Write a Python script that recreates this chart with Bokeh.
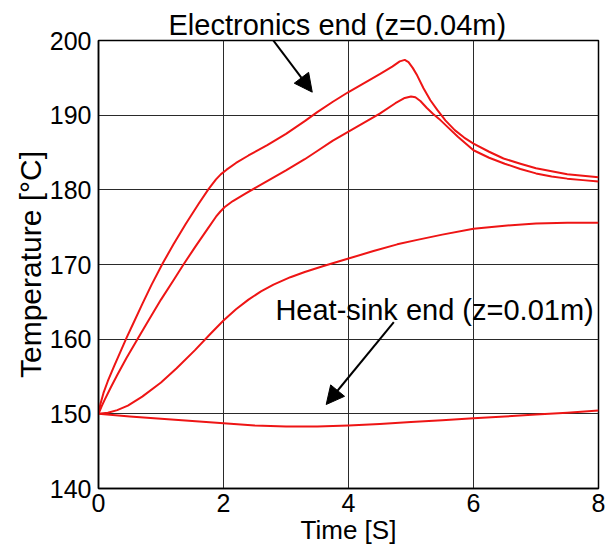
from bokeh.plotting import figure
from bokeh.models import Label, Arrow, NormalHead, FixedTicker, Range1d
from bokeh.embed import file_html
from bokeh.resources import INLINE

# Electronics end, upper curve
t_a = [0, 0.03, 0.08, 0.15, 0.25, 0.35, 0.45, 0.55, 0.7, 0.85, 1.03, 1.2, 1.4, 1.6, 1.76, 1.88, 1.96,
       2.05, 2.2, 2.4, 2.7, 3.0, 3.3, 3.5, 3.75, 4.0, 4.25, 4.5, 4.7, 4.82, 4.9, 4.96, 5.03, 5.1, 5.2,
       5.31, 5.42, 5.55, 5.7, 5.85, 6.0, 6.25, 6.48, 6.75, 7.0, 7.25, 7.5, 7.75, 8.0]
temp_a = [150, 151.3, 152.8, 154.4, 156.4, 158.3, 160.2, 162.0, 164.7, 167.3, 170.2, 172.7, 175.5, 178.1,
          180.1, 181.4, 182.1, 182.7, 183.6, 184.6, 186.0, 187.5, 189.2, 190.4, 191.8, 193.1, 194.3,
          195.5, 196.5, 197.2, 197.4, 197.1, 196.3, 195.3, 193.6, 192.0, 190.7, 189.3, 188.0, 187.0,
          186.2, 185.1, 184.2, 183.5, 182.9, 182.5, 182.1, 181.9, 181.7]

# Electronics side, second curve
t_b = [0, 0.05, 0.1, 0.2, 0.3, 0.45, 0.63, 0.8, 1.0, 1.2, 1.36, 1.55, 1.74, 1.88, 1.95, 2.02, 2.15,
       2.35, 2.6, 3.0, 3.3, 3.5, 3.75, 4.0, 4.25, 4.5, 4.75, 4.9, 5.0, 5.07, 5.15, 5.25, 5.35, 5.45, 5.6,
       5.75, 6.0, 6.25, 6.5, 6.75, 7.0, 7.25, 7.5, 7.75, 8.0]
temp_b = [150, 151.0, 151.9, 153.6, 155.2, 157.5, 160.1, 162.5, 165.3, 167.9, 170.0, 172.4, 174.7, 176.4,
          177.1, 177.7, 178.5, 179.5, 180.7, 182.6, 184.1, 185.2, 186.6, 187.8, 189.0, 190.2, 191.6,
          192.3, 192.5, 192.4, 191.9, 191.0, 190.2, 189.5, 188.3, 187.1, 185.3, 184.3, 183.5, 182.8,
          182.2, 181.8, 181.5, 181.3, 181.1]

# Middle curve
t_c = [0, 0.15, 0.3, 0.47, 0.7, 1.0, 1.25, 1.54, 1.8, 2.0, 2.2, 2.4, 2.6, 2.8, 3.07, 3.3, 3.6, 3.8, 4.0,
       4.4, 4.78, 5.1, 5.5, 6.0, 6.5, 7.0, 7.5, 8.0]
temp_c = [150, 150.15, 150.5, 151.1, 152.3, 154.2, 156.1, 158.5, 160.8, 162.5, 164.0, 165.3, 166.4, 167.3,
          168.3, 169.0, 169.8, 170.3, 170.8, 171.8, 172.7, 173.3, 174.0, 174.8, 175.2, 175.5, 175.6,
          175.6]

# Heat-sink end
t_d = [0, 0.5, 1.0, 1.5, 2.0, 2.5, 3.0, 3.5, 4.0, 4.5, 5.0, 5.5, 6.0, 6.5, 7.0, 7.5, 8.0]
temp_d = [150, 149.65, 149.35, 149.05, 148.75, 148.45, 148.3, 148.3, 148.45, 148.65, 148.9, 149.15,
          149.4, 149.65, 149.9, 150.15, 150.45]

x_ticks = [0, 2, 4, 6, 8]
y_ticks = [140, 150, 160, 170, 180, 190, 200]

FONT = "Liberation Sans"
RED = "#ee1515"

p = figure(width=613, height=552, x_range=Range1d(0, 8), y_range=Range1d(140, 200),
           output_backend="svg", toolbar_location=None,
           min_border_left=98, min_border_right=15, min_border_top=40, min_border_bottom=64,
           x_axis_label="Time [S]", y_axis_label="Temperature [\u00b0C]",
           title="Electronics end (z=0.04m)")

p.title.text_font = FONT
p.title.text_font_size = "29px"
p.title.text_font_style = "normal"
p.title.text_color = "black"
p.title.align = "left"
p.title.offset = 70
p.title.standoff = 0

for tt, vv in [(t_a, temp_a), (t_b, temp_b), (t_c, temp_c), (t_d, temp_d)]:
    p.line(tt, vv, line_color=RED, line_width=2, line_join="round")

p.xaxis.ticker = FixedTicker(ticks=x_ticks)
p.yaxis.ticker = FixedTicker(ticks=y_ticks)
for ax in (p.xaxis, p.yaxis):
    ax.major_tick_out = 0
    ax.major_tick_in = 0
    ax.minor_tick_out = 0
    ax.minor_tick_in = 0
    ax.axis_line_color = "black"
    ax.axis_line_width = 1.5
    ax.major_label_text_font = FONT
    ax.major_label_text_font_size = "25px"
    ax.major_label_text_color = "black"
    ax.axis_label_text_font = FONT
    ax.axis_label_text_font_style = "normal"
    ax.axis_label_text_color = "black"
p.xaxis.axis_label_text_font_size = "26px"
p.yaxis.axis_label_text_font_size = "30px"
p.xaxis.major_label_standoff = 5
p.yaxis.major_label_standoff = 7
p.xaxis.axis_label_standoff = 0
p.yaxis.axis_label_standoff = 0

p.grid.grid_line_color = "#2a2a2a"
p.grid.grid_line_width = 1
p.outline_line_color = "black"
p.outline_line_width = 1.5
p.background_fill_color = "white"
p.border_fill_color = "white"

p.add_layout(Label(x=2.83, y=163.9, text="Heat-sink end (z=0.01m)", text_font=FONT,
                   text_font_size="29px", text_align="left", text_baseline="alphabetic",
                   text_color="black"))

p.add_layout(Arrow(end=NormalHead(size=18, fill_color="black", line_color="black"),
                   x_start=2.78, y_start=200.2, x_end=3.42, y_end=193.08,
                   line_color="black", line_width=2))
p.add_layout(Arrow(end=NormalHead(size=18, fill_color="black", line_color="black"),
                   x_start=4.725, y_start=162.27, x_end=3.643, y_end=151.25,
                   line_color="black", line_width=2))

open("out.html", "w").write(file_html(p, INLINE))
